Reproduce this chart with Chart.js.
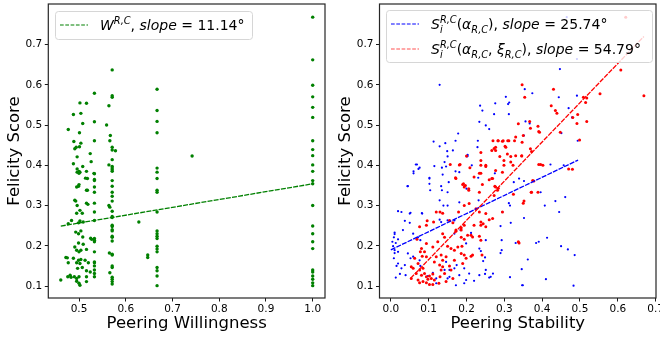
<!DOCTYPE html>
<html>
<head>
<meta charset="utf-8">
<script src="https://cdn.jsdelivr.net/npm/chart.js@4"></script>
<style>
  html, body { margin: 0; padding: 0; background: #fff; }
  #wrap { position: relative; width: 660px; height: 339px; }
  .panel { position: absolute; top: 0; width: 330px; height: 339px; }
</style>
</head>
<body>
<div id="wrap">
  <div class="panel" style="left:0"><canvas id="left" width="330" height="339"></canvas></div>
  <div class="panel" style="left:330px"><canvas id="right" width="330" height="339"></canvas></div>
</div>
<script>
// ticks
const yTicks = [0.1, 0.2, 0.3, 0.4, 0.5, 0.6, 0.7];
const willingTicks = [0.5, 0.6, 0.7, 0.8, 0.9, 1.0];
const stabilityTicks = [0.0, 0.1, 0.2, 0.3, 0.4, 0.5, 0.6, 0.7];

// left panel: peering willingness vs felicity score
const willingness = [
  [1,0.768],[1,0.662],[1,0.599],[1,0.570],[1,0.544],[1,0.519],[1,0.461],[1,0.439],[1,0.424],[1,0.401],
  [1,0.385],[1,0.362],[1,0.354],[1,0.300],[1,0.249],[1,0.230],[1,0.210],[1,0.193],[1,0.140],[1,0.135],
  [1,0.125],[1,0.117],[1,0.108],[1,0.101],
  [0.667,0.589],[0.667,0.536],[0.667,0.509],[0.667,0.481],[0.667,0.393],[0.667,0.383],[0.667,0.367],
  [0.667,0.338],[0.667,0.333],[0.667,0.284],[0.667,0.237],[0.667,0.230],[0.667,0.224],[0.667,0.218],
  [0.667,0.199],[0.667,0.192],[0.667,0.185],[0.667,0.146],[0.667,0.138],[0.667,0.125],[0.667,0.101],
  [0.742,0.423],[0.628,0.259],[0.647,0.177],[0.647,0.171],
  [0.571,0.637],[0.571,0.573],[0.571,0.569],[0.564,0.548],[0.559,0.500],[0.567,0.474],[0.566,0.461],
  [0.571,0.445],[0.571,0.438],[0.578,0.436],[0.571,0.414],[0.564,0.401],[0.571,0.397],[0.571,0.393],
  [0.571,0.389],[0.571,0.385],[0.571,0.362],[0.571,0.348],[0.571,0.333],[0.571,0.323],[0.571,0.311],
  [0.564,0.300],[0.566,0.296],[0.571,0.286],[0.571,0.273],[0.571,0.270],[0.571,0.251],[0.571,0.248],
  [0.571,0.240],[0.571,0.237],[0.571,0.224],[0.571,0.221],[0.571,0.212],[0.565,0.182],[0.571,0.179],
  [0.571,0.177],[0.571,0.150],[0.571,0.146],[0.566,0.133],[0.571,0.122],[0.571,0.117],[0.571,0.111],
  [0.571,0.105],
  [0.533,0.579],[0.533,0.508],[0.533,0.461],[0.533,0.379],[0.533,0.365],[0.533,0.362],[0.533,0.346],
  [0.533,0.333],[0.533,0.306],[0.533,0.284],[0.533,0.263],[0.533,0.218],[0.533,0.214],[0.533,0.210],
  [0.533,0.185],[0.533,0.160],[0.533,0.158],[0.533,0.150],[0.533,0.140],[0.533,0.131],[0.533,0.123],
  [0.502,0.555],[0.516,0.554],[0.488,0.526],[0.504,0.529],[0.508,0.504],[0.477,0.489],[0.501,0.481],
  [0.489,0.459],[0.504,0.455],[0.491,0.441],[0.501,0.446],[0.524,0.429],[0.496,0.421],[0.526,0.409],
  [0.488,0.404],[0.508,0.397],[0.500,0.385],[0.500,0.380],[0.516,0.385],[0.514,0.368],[0.500,0.352],
  [0.499,0.348],[0.495,0.346],[0.516,0.338],[0.493,0.311],[0.496,0.300],[0.516,0.306],[0.519,0.303],
  [0.502,0.288],[0.495,0.281],[0.507,0.281],[0.484,0.263],[0.502,0.262],[0.499,0.257],[0.509,0.259],
  [0.477,0.255],[0.493,0.234],[0.499,0.230],[0.504,0.237],[0.508,0.222],[0.527,0.216],[0.499,0.207],
  [0.509,0.204],[0.491,0.197],[0.495,0.189],[0.500,0.185],[0.504,0.189],[0.516,0.191],[0.488,0.169],
  [0.475,0.170],[0.499,0.164],[0.504,0.166],[0.513,0.164],[0.477,0.158],[0.495,0.158],[0.502,0.156],
  [0.520,0.158],[0.497,0.144],[0.507,0.146],[0.516,0.138],[0.524,0.135],[0.476,0.123],[0.483,0.122],
  [0.481,0.127],[0.490,0.123],[0.495,0.119],[0.500,0.123],[0.516,0.123],[0.461,0.115],[0.495,0.112],
  [0.500,0.107],[0.502,0.102],[0.516,0.111],[0.472,0.171],[0.491,0.313],[0.518,0.338],[0.496,0.383],
  [0.502,0.383],[0.518,0.367],[0.532,0.380],[0.525,0.219],[0.494,0.445],[0.496,0.391]
];
const willingFit = [[0.461, 0.249], [1.0, 0.354]];

// right panel: peering stability vs felicity score
const stabilityAlpha = [
  [0.129,0.600],[0.178,0.479],[0.113,0.459],[0.129,0.447],[0.144,0.455],[0.149,0.435],[0.164,0.437],
  [0.171,0.461],[0.230,0.461],[0.229,0.445],[0.234,0.508],[0.251,0.499],[0.260,0.490],[0.236,0.548],
  [0.242,0.536],[0.273,0.527],[0.276,0.554],[0.304,0.570],[0.310,0.552],[0.203,0.426],[0.313,0.556],
  [0.312,0.527],[0.354,0.589],[0.374,0.579],[0.447,0.639],[0.444,0.569],[0.470,0.542],[0.479,0.519],
  [0.494,0.461],[0.492,0.573],[0.465,0.768],[0.492,0.664],[0.422,0.402],[0.457,0.400],[0.066,0.402],
  [0.073,0.391],[0.115,0.398],[0.142,0.408],[0.214,0.400],[0.201,0.422],[0.356,0.509],[0.367,0.504],
  [0.352,0.474],[0.451,0.480],[0.352,0.361],[0.339,0.367],[0.396,0.333],[0.435,0.311],[0.461,0.321],
  [0.407,0.300],[0.445,0.284],[0.352,0.269],[0.413,0.220],[0.391,0.210],[0.384,0.207],[0.450,0.199],
  [0.468,0.191],[0.486,0.177],[0.362,0.166],[0.346,0.142],[0.410,0.117],[0.349,0.102],[0.483,0.101],
  [0.290,0.249],[0.317,0.257],[0.290,0.182],[0.010,0.233],[0.004,0.210],[0.006,0.199],[0.010,0.182],
  [0.050,0.280],[0.083,0.280],[0.044,0.348],[0.060,0.385],[0.102,0.369],[0.137,0.377],[0.251,0.140],
  [0.315,0.122],[0.347,0.102],[0.194,0.107],[0.120,0.107],
  [0.150,0.422],[0.203,0.423],[0.069,0.402],[0.076,0.394],[0.060,0.380],[0.135,0.394],[0.146,0.397],
  [0.171,0.385],[0.181,0.383],[0.102,0.367],[0.102,0.354],[0.104,0.338],[0.045,0.348],[0.133,0.348],
  [0.153,0.358],[0.135,0.338],[0.150,0.333],[0.200,0.342],[0.231,0.369],[0.275,0.380],[0.312,0.306],
  [0.315,0.300],[0.325,0.358],[0.295,0.284],[0.232,0.313],[0.181,0.308],[0.019,0.286],[0.028,0.284],
  [0.052,0.282],[0.082,0.281],[0.129,0.313],[0.139,0.300],[0.150,0.300],[0.037,0.262],[0.050,0.257],
  [0.032,0.239],[0.010,0.229],[0.008,0.221],[0.019,0.216],[0.013,0.207],[0.059,0.230],[0.072,0.221],
  [0.078,0.214],[0.129,0.265],[0.133,0.259],[0.150,0.263],[0.168,0.263],[0.184,0.239],[0.168,0.230],
  [0.199,0.206],[0.234,0.193],[0.212,0.232],[0.251,0.214],[0.293,0.214],[0.330,0.207],[0.010,0.189],
  [0.019,0.185],[0.008,0.169],[0.019,0.156],[0.015,0.150],[0.028,0.144],[0.013,0.121],[0.037,0.152],
  [0.045,0.181],[0.052,0.169],[0.059,0.173],[0.039,0.127],[0.024,0.130],[0.076,0.164],[0.078,0.150],
  [0.146,0.160],[0.155,0.140],[0.150,0.119],[0.155,0.123],[0.168,0.144],[0.174,0.152],[0.181,0.127],
  [0.194,0.144],[0.207,0.131],[0.199,0.115],[0.172,0.102],[0.220,0.113],[0.238,0.187],[0.249,0.171],
  [0.244,0.162],[0.264,0.123],[0.270,0.131],[0.249,0.130],[0.234,0.127],[0.293,0.189],[0.260,0.121],
  [0.142,0.140],[0.111,0.133],[0.120,0.119],[0.098,0.125]
];
const stabilityAlphaXi = [
  [0.347,0.600],[0.430,0.589],[0.354,0.569],[0.424,0.548],[0.435,0.536],[0.439,0.529],[0.509,0.569],
  [0.515,0.556],[0.553,0.578],[0.518,0.509],[0.492,0.504],[0.499,0.463],[0.367,0.509],[0.369,0.492],
  [0.389,0.497],[0.391,0.484],[0.337,0.503],[0.350,0.474],[0.327,0.461],[0.347,0.457],[0.295,0.460],
  [0.283,0.461],[0.270,0.461],[0.312,0.461],[0.304,0.445],[0.273,0.442],[0.288,0.422],[0.317,0.422],
  [0.330,0.424],[0.346,0.424],[0.323,0.400],[0.317,0.408],[0.238,0.432],[0.200,0.423],[0.238,0.412],
  [0.251,0.400],[0.157,0.402],[0.183,0.402],[0.396,0.402],[0.402,0.400],[0.470,0.391],[0.608,0.637],
  [0.669,0.573],[0.621,0.768],[0.518,0.567],[0.494,0.526],[0.481,0.519],[0.369,0.441],[0.393,0.482],
  [0.448,0.482],[0.284,0.461],[0.297,0.461],[0.309,0.461],[0.302,0.447],[0.277,0.445],[0.267,0.437],
  [0.330,0.470],[0.346,0.423],[0.372,0.434],[0.391,0.402],[0.480,0.390],[0.378,0.361],[0.372,0.333],
  [0.389,0.333],[0.352,0.311],[0.339,0.207],
  [0.181,0.401],[0.209,0.394],[0.238,0.400],[0.251,0.397],[0.172,0.367],[0.192,0.354],[0.197,0.350],
  [0.206,0.338],[0.234,0.380],[0.277,0.387],[0.260,0.364],[0.267,0.367],[0.277,0.346],[0.284,0.343],
  [0.242,0.352],[0.299,0.400],[0.299,0.412],[0.308,0.428],[0.277,0.437],[0.076,0.247],[0.094,0.251],
  [0.113,0.259],[0.130,0.284],[0.137,0.281],[0.155,0.263],[0.164,0.257],[0.179,0.284],[0.194,0.300],
  [0.207,0.305],[0.225,0.292],[0.234,0.284],[0.251,0.280],[0.269,0.268],[0.238,0.259],[0.251,0.247],
  [0.172,0.239],[0.186,0.221],[0.194,0.216],[0.203,0.226],[0.216,0.222],[0.177,0.197],[0.159,0.193],
  [0.168,0.189],[0.137,0.230],[0.142,0.221],[0.124,0.210],[0.111,0.197],[0.094,0.206],[0.081,0.193],
  [0.089,0.185],[0.083,0.174],[0.094,0.173],[0.120,0.173],[0.133,0.177],[0.146,0.173],[0.137,0.164],
  [0.115,0.160],[0.129,0.152],[0.137,0.148],[0.155,0.150],[0.168,0.164],[0.194,0.177],[0.199,0.169],
  [0.190,0.156],[0.212,0.174],[0.186,0.181],[0.063,0.169],[0.054,0.148],[0.059,0.144],[0.072,0.156],
  [0.076,0.140],[0.085,0.144],[0.067,0.131],[0.081,0.127],[0.089,0.131],[0.094,0.123],[0.102,0.125],
  [0.107,0.119],[0.098,0.117],[0.111,0.130],[0.115,0.115],[0.085,0.111],[0.076,0.108],[0.094,0.108],
  [0.102,0.104],[0.072,0.115],[0.133,0.140],[0.142,0.131],[0.130,0.123],[0.146,0.111],[0.127,0.107],
  [0.111,0.104],[0.054,0.119],[0.159,0.140],[0.164,0.119],[0.234,0.224],[0.238,0.214],[0.186,0.245],
  [0.194,0.251],[0.220,0.251],[0.171,0.369],[0.220,0.371],[0.238,0.380],[0.269,0.367],[0.295,0.383],
  [0.190,0.352],[0.194,0.346],[0.206,0.342],[0.234,0.333],[0.275,0.348],[0.273,0.325],[0.282,0.338],
  [0.295,0.284],[0.324,0.328],[0.350,0.306],[0.371,0.333],[0.375,0.362],[0.337,0.210],[0.244,0.255],
  [0.120,0.284],[0.096,0.262],[0.069,0.216],[0.078,0.185],[0.150,0.199],[0.188,0.199],[0.216,0.177],
  [0.241,0.177],[0.212,0.226],[0.238,0.251],[0.186,0.239],[0.172,0.236],[0.260,0.265]
];
const alphaFit = [[0.0, 0.190], [0.495, 0.413]];
const alphaXiFit = [[0.052, 0.119], [0.669, 0.720]];

Chart.defaults.font.family = '"DejaVu Sans", sans-serif';
Chart.defaults.color = '#000';

const toXY = arr => arr.map(([x, y]) => ({ x, y }));

// draws one line of mathtext-like label; segments: t=text, it=italic, s='sup'|'sub', keep=stack with next
function drawMath(ctx, segs, x0, base) {
  let x = x0, pending = 0;
  for (const g of segs) {
    const size = g.s ? 9.8 : 14;
    ctx.font = (g.it ? 'italic ' : '') + size + 'px "DejaVu Sans"';
    const dy = g.s === 'sup' ? -6 : g.s === 'sub' ? 3.5 : 0;
    ctx.fillText(g.t, x, base + dy);
    const w = ctx.measureText(g.t).width;
    if (g.keep) pending = w;
    else { x += Math.max(w, pending); pending = 0; }
  }
}

const frameLegend = {
  id: 'frameLegend',
  afterDraw(chart, args, opts) {
    const { ctx, chartArea: a } = chart;
    ctx.save();
    ctx.strokeStyle = '#262626';
    ctx.lineWidth = 1.2;
    ctx.strokeRect(a.left, a.top, a.right - a.left, a.bottom - a.top);

    const [bx, by, bw, bh] = opts.box;
    ctx.beginPath();
    ctx.roundRect(bx + 0.5, by + 0.5, bw, bh, 3);
    ctx.fillStyle = 'rgba(255,255,255,0.8)';
    ctx.fill();
    ctx.strokeStyle = '#d6d6d6';
    ctx.lineWidth = 1;
    ctx.stroke();

    ctx.fillStyle = '#000';
    ctx.textBaseline = 'alphabetic';
    opts.rows.forEach(r => {
      ctx.strokeStyle = r.color;
      ctx.lineWidth = 1.2;
      ctx.setLineDash([3.7, 1.6]);
      ctx.beginPath();
      ctx.moveTo(bx + 5, r.y);
      ctx.lineTo(bx + 33, r.y);
      ctx.stroke();
      ctx.setLineDash([]);
      drawMath(ctx, r.segs, bx + 45, r.y + 5);
    });
    ctx.restore();
  }
};

function axis(ticks, min, max, title, fitSize, isX, titlePad) {
  return {
    type: 'linear',
    min, max,
    afterBuildTicks: s => { s.ticks = ticks.map(v => ({ value: v })); },
    afterFit: s => {
      if (isX) { s.height = fitSize; s.paddingLeft = 0; s.paddingRight = 0; }
      else { s.width = fitSize; s.paddingTop = 0; s.paddingBottom = 0; }
    },
    grid: { drawOnChartArea: false, drawTicks: true, tickLength: 3.5, color: '#000', lineWidth: 0.9 },
    border: { display: false },
    ticks: {
      color: '#000', font: { size: 10.5 }, padding: isX ? 1.5 : 2.5,
      maxRotation: 0, autoSkip: false, callback: v => Number(v).toFixed(1)
    },
    title: { display: true, text: title, color: '#000', font: { size: 16.5 }, padding: titlePad }
  };
}

function makeChart(id, datasets, xAxis, yAxis, legend, padding) {
  return new Chart(document.getElementById(id), {
    type: 'scatter',
    data: { datasets },
    options: {
      responsive: false,
      animation: false,
      events: [],
      devicePixelRatio: 1,
      layout: { padding },
      scales: { x: xAxis, y: yAxis },
      plugins: { legend: { display: false }, tooltip: { enabled: false }, frameLegend: legend }
    },
    plugins: [frameLegend]
  });
}

const lineStyle = color => ({
  showLine: true, borderColor: color, borderWidth: 1.3, borderDash: [5, 1.2],
  pointRadius: 0, fill: false
});

makeChart('left', [
  Object.assign({ data: toXY(willingFit) }, lineStyle('#008000')),
  { data: toXY(willingness), pointRadius: 1.7, pointBorderWidth: 0, pointBackgroundColor: '#008000' }
],
  axis(willingTicks, 0.4343, 1.0263, 'Peering Willingness', 41, true, { top: 0, bottom: 5 }),
  axis(yTicks, 0.0703, 0.8007, 'Felicity Score', 48.3, false, { top: 5, bottom: 0 }),
  {
    box: [55, 11, 197, 28],
    rows: [{ y: 25, color: '#008000', segs: [
      { t: 'W', it: true }, { t: 'R,C', it: true, s: 'sup' }, { t: ', ' },
      { t: 'slope', it: true }, { t: ' = 11.14°' }
    ] }]
  },
  { top: 3, right: 5, left: 0, bottom: 0 }
);

makeChart('right', [
  Object.assign({ data: toXY(alphaXiFit) }, lineStyle('#ff0000')),
  Object.assign({ data: toXY(alphaFit) }, lineStyle('#0000ff')),
  { data: toXY(stabilityAlphaXi), pointRadius: 1.5, pointBorderWidth: 0, pointBackgroundColor: '#ff0000' },
  { data: toXY(stabilityAlpha), pointRadius: 1.1, pointBorderWidth: 0, pointBackgroundColor: '#0000ff' }
],
  axis(stabilityTicks, -0.030, 0.701, 'Peering Stability', 41, true, { top: 0, bottom: 5 }),
  axis(yTicks, 0.0703, 0.8007, 'Felicity Score', 49.5, false, { top: 6, bottom: 0 }),
  {
    box: [56, 10, 266, 52],
    rows: [
      { y: 24, color: '#0000ff', segs: [
        { t: 'S', it: true }, { t: 'i', it: true, s: 'sub', keep: true }, { t: 'R,C', it: true, s: 'sup' },
        { t: '(' }, { t: 'α', it: true }, { t: 'R,C', it: true, s: 'sub' }, { t: '), ' },
        { t: 'slope', it: true }, { t: ' = 25.74°' }
      ] },
      { y: 49, color: '#ff5050', segs: [
        { t: 'S', it: true }, { t: 'i', it: true, s: 'sub', keep: true }, { t: 'R,C', it: true, s: 'sup' },
        { t: '(' }, { t: 'α', it: true }, { t: 'R,C', it: true, s: 'sub' }, { t: ', ' },
        { t: 'ξ', it: true }, { t: 'R,C', it: true, s: 'sub' }, { t: '), ' },
        { t: 'slope', it: true }, { t: ' = 54.79°' }
      ] }
    ]
  },
  { top: 3, right: 2, left: 0, bottom: 0 }
);
</script>
</body>
</html>
